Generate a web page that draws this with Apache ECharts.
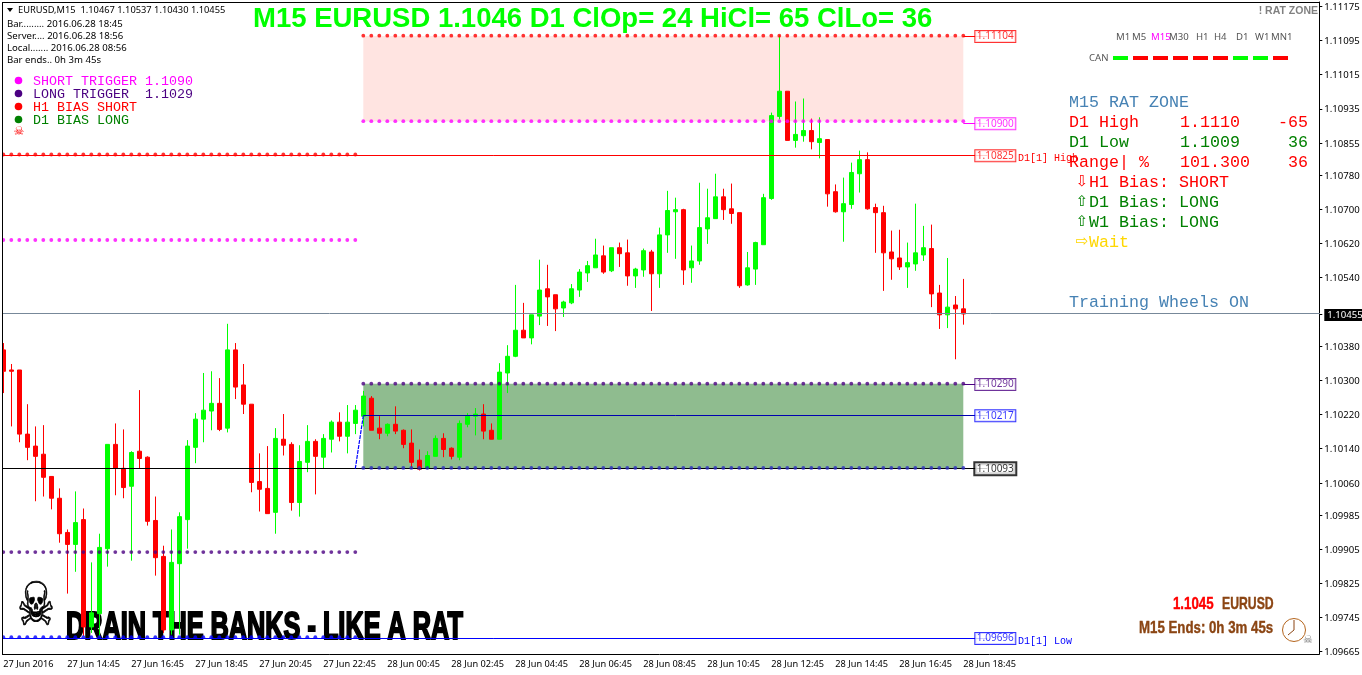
<!DOCTYPE html>
<html><head><meta charset="utf-8">
<style>html,body{margin:0;padding:0;background:#fff}#c{width:1362px;height:675px}</style>
<script src="https://cdn.jsdelivr.net/npm/echarts@6/dist/echarts.min.js"></script>
</head><body><div id="c"></div>
<script>
const opens=[110371,110324,110324,110174,110146,110127,110075,110024,109944,109916,
109974,109723,109754,109906,110150,110094,110052,110134,110120,109972,
109888,109716,109871,109974,110143,110209,110228,110246,110188,110371,
110289,110244,110063,110047,109991,110162,110150,110014,110108,110157,
110120,110162,110202,110169,110199,110216,110258,110188,110176,110197,
110183,110153,110113,110094,110122,110164,110141,110120,110197,110216,
110221,110183,110162,110317,110356,110417,110399,110450,110514,110500,
110469,110481,110511,110551,110563,110591,110556,110610,110598,110544,
110558,110600,110549,110640,110694,110699,110563,110579,110654,110678,
110729,110701,110692,110523,110560,110617,110725,110917,110976,110861,
110872,110884,110856,110863,110741,110694,110711,110783,110816,110704,
110692,110600,110586,110565,110572,110593,110608,110504,110453,110476,
110467];
const closes=[110321,110321,110174,110143,110122,110073,110024,109941,109916,109967,
109723,109756,109909,110150,110094,110049,110131,110117,109970,109885,
109716,109874,109981,110146,110209,110230,110246,110185,110371,110284,
110244,110061,110045,109988,110164,110148,110014,110110,110157,110122,
110164,110202,110169,110202,110230,110263,110183,110176,110197,110181,
110150,110108,110092,110124,110164,110138,110122,110199,110216,110221,
110181,110162,110319,110356,110417,110399,110453,110511,110495,110467,
110483,110514,110553,110568,110593,110553,110610,110596,110544,110560,
110603,110549,110640,110697,110699,110558,110579,110657,110680,110729,
110699,110690,110521,110563,110622,110727,110919,110976,110861,110875,
110884,110858,110865,110736,110694,110713,110786,110816,110701,110692,
110598,110584,110565,110575,110598,110610,110502,110453,110471,110467,
110455];
const lows=[110270,110192,110155,110113,110017,110028,109998,109920,109801,109852,
109702,109709,109700,109864,110031,110024,109878,110094,109960,109843,
109709,109705,109705,109906,110106,110155,110183,110181,110178,110256,
110221,110038,109993,109988,109941,110124,109995,109981,110085,110033,
110094,110131,110157,110129,110174,110192,110183,110162,110169,110174,
110141,110096,110089,110092,110122,110120,110115,110113,110190,110171,
110162,110162,110162,110270,110354,110399,110384,110429,110427,110415,
110448,110478,110495,110530,110563,110549,110553,110565,110521,110516,
110542,110462,110516,110598,110584,110523,110528,110570,110619,110678,
110675,110666,110516,110521,110523,110617,110722,110910,110861,110844,
110858,110840,110819,110706,110692,110624,110701,110739,110699,110598,
110509,110535,110558,110516,110556,110579,110471,110420,110422,110349,
110430];
const highs=[110387,110338,110324,110244,110192,110195,110075,110047,109951,110040,
110000,109874,109941,110150,110199,110185,110134,110277,110122,110028,
109913,109951,109991,110160,110223,110317,110321,110305,110432,110387,
110338,110244,110129,110146,110188,110221,110155,110148,110195,110162,
110174,110206,110225,110242,110242,110275,110263,110216,110199,110239,
110185,110185,110138,110134,110171,110176,110143,110206,110223,110235,
110244,110199,110340,110382,110523,110481,110453,110582,110570,110500,
110486,110525,110560,110579,110631,110615,110610,110622,110629,110563,
110608,110605,110657,110743,110727,110701,110615,110762,110748,110783,
110748,110760,110692,110600,110624,110736,110926,111107,110976,110952,
110959,110912,110915,110863,110758,110774,110809,110837,110833,110713,
110708,110650,110652,110622,110713,110661,110664,110523,110586,110497,
110537];
const timeTickLabels=['27 Jun 2016','27 Jun 14:45','27 Jun 16:45','27 Jun 18:45','27 Jun 20:45','27 Jun 22:45','28 Jun 00:45','28 Jun 02:45','28 Jun 04:45','28 Jun 06:45','28 Jun 08:45','28 Jun 10:45','28 Jun 12:45','28 Jun 14:45','28 Jun 16:45','28 Jun 18:45'];
const bidPrice=1.10455;
const priceTicks=[1.11175,1.11095,1.11015,1.10935,1.10855,1.10780,1.10700,1.10620,1.10540,bidPrice,1.10380,1.10300,1.10220,1.10140,1.10060,1.09985,1.09905,1.09825,1.09745,1.09665];
const zones=[[45,120,1.11105,1.10906,'#FFE4E1'],[45,120,1.10292,1.10093,'#8FBC8F']];
const lineLevels=[[-1,123,1.10825,'#FF0000'],[120,123,1.11104,'#FF0000'],[120,123,1.10900,'#FF00FF'],[120,123,1.10290,'#4B0082'],[45,123,1.10217,'#0000B0'],[-1,123,1.10093,'#000000'],[-1,123,1.09696,'#0000FF'],[-1,166,bidPrice,'#778899']];
const dotLevels=[[45,120,1.11106,'#FF0000'],[45,120,1.10906,'#FF00FF'],[45,120,1.10292,'#4B0082'],[45,120,1.10095,'#2A2AC0'],[0,44,1.10828,'#FF0000'],[0,44,1.10628,'#FF00FF'],[0,44,1.09898,'#4B0082'],[0,44,1.09699,'#0000FF']];
const boxLevels=[[1.11104,'#FF0000',1],[1.10900,'#FF00FF',1],[1.10825,'#FF0000',1],[1.10290,'#4B0082',1],[1.10217,'#0000FF',1],[1.10093,'#000000',2],[1.09696,'#0000FF',1]];
const rampX=[44,45]; const rampY=[1.10093,1.10217];
const tfLabels=['M1','M5','M15','M30','H1','H4','D1','W1','MN1'];
const tfX=[1116,1132,1151,1169,1196,1214,1236,1255,1271];
const canColors=['#00FF00','#FF0000','#FF0000','#FF0000','#FF0000','#FF0000','#00FF00','#00FF00','#FF0000'];

const categories=[];
for(let i=0;i<165;i++){categories.push(i%8===0&&i<=120?timeTickLabels[i/8]:'c'+i);}
const candles=opens.map((o,i)=>[o/1e5,closes[i]/1e5,lows[i]/1e5,highs[i]/1e5]);

const MONO='"Liberation Mono"', SANS='"Noto Sans"', LS='"Liberation Sans"';
function T(text,x,y,font,fill,o){o=o||{};return Object.assign({type:'text',x,y,z:o.z==null?100:o.z,
  style:Object.assign({text,font,fill,align:o.align||'left',verticalAlign:'middle'},o.style||{})},o.el||{});}
const g=[];
g.push(T('DRAIN THE BANKS - LIKE A RAT',66,628,'bold 39px '+LS,'#000',{z:0,el:{scaleX:0.648},style:{stroke:'#000',lineWidth:2.2}}));
g.push(T('\u2620',36,609,'50px "DejaVu Sans"','#000',{z:0,align:'center',el:{scaleX:0.85,scaleY:1.2},style:{stroke:'#000',lineWidth:.6}}));
g.push({type:'rect',z:90,shape:{x:0,y:0,width:2,height:675},style:{fill:'#fff'}});
g.push({type:'rect',z:91,shape:{x:2,y:2,width:1,height:652},style:{fill:'#000'}});
g.push({type:'rect',z:91,shape:{x:2,y:2,width:1318,height:1},style:{fill:'#000'}});
g.push({type:'polygon',z:100,shape:{points:[[7,8],[13,8],[10,12]]},style:{fill:'#000'}});
g.push(T('EURUSD,M15  1.10467 1.10537 1.10430 1.10455',18,10.5,'9.3px '+SANS,'#000'));
g.push(T('Bar......... 2016.06.28 18:45',7,24,'9.6px '+SANS,'#000'));
g.push(T('Server.... 2016.06.28 18:56',7,36,'9.6px '+SANS,'#000'));
g.push(T('Local....... 2016.06.28 08:56',7,48,'9.6px '+SANS,'#000'));
g.push(T('Bar ends.. 0h 3m 45s',7,60,'9.6px '+SANS,'#000'));
g.push(T('M15 EURUSD 1.1046 D1 ClOp= 24 HiCl= 65 ClLo= 36',253,19.5,'bold 27.5px '+LS,'#00FF00'));
[['SHORT TRIGGER 1.1090','#FF00FF',81],['LONG TRIGGER  1.1029','#4B0082',94],['H1 BIAS SHORT','#FF0000',107],['D1 BIAS LONG','#008000',120]].forEach(r=>{
  g.push({type:'circle',z:100,shape:{cx:18.5,cy:r[2]-.5,r:3.8},style:{fill:r[1]}});
  g.push(T(r[0],33,r[2],'13.33px '+MONO,r[1]));
});
g.push(T('\u2620',19,132,'12px "DejaVu Sans"','#FF0000',{align:'center'}));
g.push(T('! RAT ZONE',1318,11,'bold 10.5px '+LS,'#808080',{align:'right'}));
tfLabels.forEach((t,i)=>g.push(T(t,tfX[i],37,'9.6px '+SANS,t==='M15'?'#FF00FF':'#555')));
g.push(T('CAN',1089,58,'9.6px '+SANS,'#555'));
canColors.forEach((c,i)=>g.push({type:'rect',z:100,shape:{x:1113+20*i,y:56,width:15,height:4},style:{fill:c}}));
const P='16.67px '+MONO, steel='#4682B4', gr='#008000', rd='#FF0000';
[['M15 RAT ZONE',1069,103,steel],['D1 High',1069,123,rd],['1.1110',1180,123,rd],['D1 Low',1069,143,gr],['1.1009',1180,143,gr],
 ['Range| %',1069,163,rd],['101.300',1180,163,rd],['H1 Bias: SHORT',1089,183,rd],['D1 Bias: LONG',1089,203,gr],['W1 Bias: LONG',1089,223,gr],
 ['Wait',1089,243,'#FFD700'],['Training Wheels ON',1069,303,steel]].forEach(r=>g.push(T(r[0],r[1],r[2],P,r[3])));
[['-65',123,rd],['36',143,gr],['36',163,rd]].forEach(r=>g.push(T(r[0],1308,r[1],P,r[2],{align:'right'})));
[['\u21E9',182,rd],['\u21E7',202,gr],['\u21E7',222,gr],['\u21E8',242,'#FFD700']].forEach(r=>g.push(T(r[0],1082,r[1],'15px "DejaVu Sans"',r[2],{align:'center'})));
g.push(T('D1[1] High',1018,158,'10px '+MONO,'#FF0000'));
g.push(T('D1[1] Low',1018,641,'10px '+MONO,'#0000FF'));
g.push(T('1.1045',1173,604,'bold 17px '+LS,'#FF0000',{el:{scaleX:0.78},style:{stroke:'#FF0000',lineWidth:.4}}));
g.push(T('EURUSD',1222,604,'bold 17px '+LS,'#8B4513',{el:{scaleX:0.72},style:{stroke:'#8B4513',lineWidth:.4}}));
g.push(T('M15 Ends: 0h 3m 45s',1139,628,'bold 17px '+LS,'#8B4513',{el:{scaleX:0.78},style:{stroke:'#8B4513',lineWidth:.4}}));
g.push({type:'circle',z:100,shape:{cx:1294,cy:630,r:11.5},style:{fill:'#fff',stroke:'#B5651D',lineWidth:1}});
g.push({type:'polyline',z:100,shape:{points:[[1294,620],[1294,630],[1288,635]]},style:{fill:null,stroke:'#8B4513',lineWidth:1}});
g.push(T('\u2620',1308,640,'11px "DejaVu Sans"','#777',{align:'center'}));

const chart=echarts.init(document.getElementById('c'),null,{renderer:'canvas',width:1362,height:675});
chart.setOption({
  animation:false,backgroundColor:'#fff',
  grid:{left:-0.7,top:2,width:1320,height:652,containLabel:false,outerBoundsMode:'none'},
  xAxis:{type:'category',data:categories,boundaryGap:true,
    axisLine:{lineStyle:{color:'#000',width:1}},
    axisTick:{alignWithLabel:true,length:3,lineStyle:{color:'#000'},interval:(i)=>i%8===0&&i<=120},
    axisLabel:{interval:(i)=>i%8===0&&i<=120,align:'left',margin:6,color:'#000',fontSize:9.2,fontFamily:'Noto Sans',hideOverlap:false},
    splitLine:{show:false}},
  yAxis:{type:'value',position:'right',min:1.096597,max:1.111847,scale:true,
    axisLine:{show:true,onZero:false,lineStyle:{color:'#000',width:1}},
    axisTick:{show:true,length:3,lineStyle:{color:'#000'},customValues:priceTicks},
    axisLabel:{color:'#000',fontSize:9.6,fontFamily:'Noto Sans',margin:5,padding:[2,0,0,0],customValues:priceTicks,
      formatter:v=>v===bidPrice?'{bid|'+v.toFixed(5)+'}':v.toFixed(5),
      rich:{bid:{color:'#fff',backgroundColor:'#000',fontFamily:'Noto Sans',fontSize:9.6,padding:[1,3,1,3]}}},
    splitLine:{show:false}},
  graphic:{elements:g},
  series:[
   {type:'custom',name:'zones',z:1,clip:true,silent:true,data:zones.map((s,i)=>[i,s[2]]),encode:{x:0,y:1},
    renderItem:(p,api)=>{const s=zones[p.dataIndex],a=api.coord([s[0],s[2]]),b=api.coord([s[1],s[3]]);
      return {type:'rect',shape:{x:a[0],y:a[1],width:b[0]-a[0],height:b[1]-a[1]},style:{fill:s[4]}};}},
   {type:'candlestick',z:3,clip:true,barWidth:4,data:candles,silent:true,
    itemStyle:{color:'#00FF00',color0:'#FF0000',borderColor:'#00FF00',borderColor0:'#FF0000',borderWidth:1}},
   {type:'line',z:4,showSymbol:false,silent:true,data:rampX.map((k,i)=>[k,rampY[i]]),
    lineStyle:{color:'#0000FF',width:1.2,type:[4,1]}},
   {type:'custom',name:'levels',z:4,clip:true,silent:true,data:lineLevels.map((s,i)=>[i,s[2]]),encode:{x:0,y:1},
    renderItem:(p,api)=>{const s=lineLevels[p.dataIndex],a=api.coord([s[0],s[2]]),b=api.coord([s[1],s[2]]),y=Math.floor(a[1])+.5;
      return {type:'line',shape:{x1:a[0],y1:y,x2:b[0],y2:y},style:{stroke:s[3],lineWidth:1}};}},
   ...dotLevels.map(d=>{const arr=[];for(let k=d[0];k<=d[1];k++)arr.push([k,d[2]]);
     return {type:'scatter',z:5,silent:true,symbol:'circle',symbolSize:3.8,data:arr,itemStyle:{color:d[3]}};}),
   {type:'scatter',z:6,silent:true,symbolSize:1,itemStyle:{color:'transparent'},
    data:boxLevels.map(b=>({value:[124,b[0]],label:{show:true,position:'inside',formatter:b[0].toFixed(5),color:b[1],fontFamily:'Noto Sans',fontSize:10,
      backgroundColor:'#fff',borderColor:b[1],borderWidth:b[2],width:36,height:11,lineHeight:11,padding:[0,2],align:'center',verticalAlign:'middle'}}))}
  ]
});
</script></body></html>
